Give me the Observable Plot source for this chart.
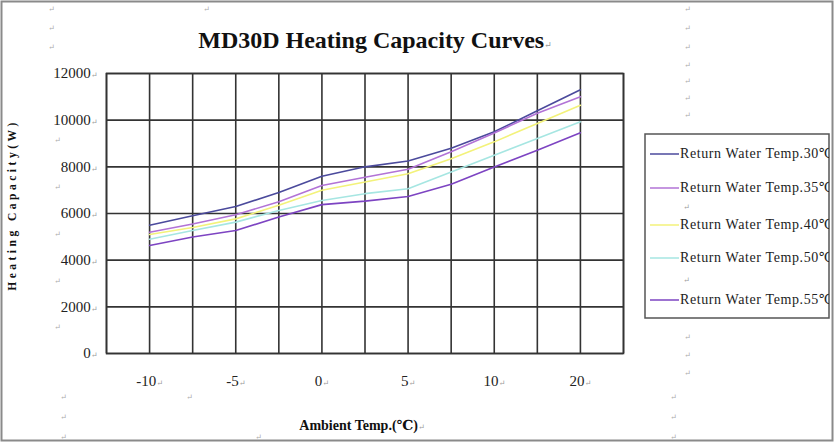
<!DOCTYPE html>
<html>
<head>
<meta charset="utf-8">
<script src="https://cdn.jsdelivr.net/npm/d3@7"></script>
<script src="https://cdn.jsdelivr.net/npm/@observablehq/plot@0.6"></script>
<style>
  html, body { margin: 0; padding: 0; background: #fff; }
  #chart { width: 835px; height: 443px; overflow: hidden; }
</style>
</head>
<body>
<div id="chart"></div>
<script>
// ---- data ----
const xTickLabels = ["-10", "-5", "0", "5", "10", "20"];
const xTickIndex = [1, 3, 5, 7, 9, 11];
const xPointIndex = [1, 2, 3, 4, 5, 6, 7, 8, 9, 10, 11];
const seriesNames = [
  "Return Water Temp.30℃",
  "Return Water Temp.35℃",
  "Return Water Temp.40℃",
  "Return Water Temp.50℃",
  "Return Water Temp.55℃"
];
const seriesColors = ["#4b4a9c", "#b273d6", "#f3f27a", "#a6e6e2", "#7d44c2"];
const temp30 = [5500, 5900, 6300, 6900, 7600, 8000, 8250, 8800, 9500, 10400, 11300];
const temp35 = [5200, 5550, 5950, 6500, 7200, 7550, 7900, 8650, 9450, 10300, 11000];
const temp40 = [5100, 5400, 5770, 6350, 7000, 7350, 7700, 8350, 9070, 9860, 10640];
const temp50 = [4900, 5270, 5630, 6130, 6560, 6850, 7060, 7780, 8500, 9210, 9930];
const temp55 = [4630, 4990, 5270, 5850, 6380, 6530, 6730, 7250, 7990, 8710, 9460];
const yTicks = [0, 2000, 4000, 6000, 8000, 10000, 12000];

const seriesValues = [temp30, temp35, temp40, temp50, temp55];
const rows = [];
seriesNames.forEach((name, s) => {
  seriesValues[s].forEach((v, i) => rows.push({series: name, x: xPointIndex[i], y: v}));
});

const serif = "'Liberation Serif', 'DejaVu Serif', serif";

const plot = Plot.plot({
  width: 835,
  height: 443,
  marginLeft: 106,
  marginRight: 212,
  marginTop: 73,
  marginBottom: 90,
  style: {fontFamily: serif, fontSize: "15px", color: "#222", background: "transparent"},
  x: {domain: [0, 12], ticks: xTickIndex, tickFormat: (d) => xTickLabels[xTickIndex.indexOf(d)], tickSize: 0, tickPadding: 22, label: null},
  y: {domain: [0, 12000], ticks: yTicks, tickFormat: (d) => String(d), tickSize: 0, tickPadding: 9, label: null},
  color: {domain: seriesNames, range: seriesColors},
  marks: [
    Plot.gridX(d3.range(0, 13), {stroke: "#333", strokeOpacity: 1, strokeWidth: 1.6}),
    Plot.gridY(yTicks, {stroke: "#333", strokeOpacity: 1, strokeWidth: 1.6}),
    Plot.frame({stroke: "#333", strokeWidth: 1.6}),
    Plot.line(rows, {x: "x", y: "y", z: "series", stroke: "series", strokeWidth: 1.6})
  ]
});

document.getElementById("chart").appendChild(plot);
const svg = d3.select(plot);
svg.style("overflow", "hidden");

// paragraph marks after tick labels
svg.selectAll("g[aria-label='y-axis tick label'] text, g[aria-label='x-axis tick label'] text").each(function() {
  d3.select(this).append("tspan").attr("font-size", 8).attr("fill", "#999").text("↵");
});

// page border
svg.append("rect").attr("x", 1.5).attr("y", 1.5).attr("width", 831).attr("height", 439)
  .attr("fill", "none").attr("stroke", "#8a8a8a").attr("stroke-width", 2);

// title
svg.append("text").attr("x", 375).attr("y", 48).attr("text-anchor", "middle")
  .attr("font-family", serif).attr("font-weight", "bold").attr("font-size", 24).attr("fill", "#111")
  .text("MD30D Heating Capacity Curves")
  .append("tspan").attr("font-size", 9).attr("font-weight", "normal").attr("fill", "#999").text("↵");

// y axis label
svg.append("text").attr("transform", "translate(16,205) rotate(-90)").attr("text-anchor", "middle")
  .attr("font-family", serif).attr("font-weight", "bold").attr("font-size", 11.5).attr("letter-spacing", 3.5)
  .attr("fill", "#111").text("Heating Capacity(W)");

// x axis label
svg.append("text").attr("x", 362).attr("y", 430).attr("text-anchor", "middle")
  .attr("font-family", serif).attr("font-weight", "bold").attr("font-size", 14).attr("fill", "#111")
  .text("Ambient Temp.(℃)")
  .append("tspan").attr("font-size", 8).attr("font-weight", "normal").attr("fill", "#999").text("↵");

// legend
const lg = svg.append("g");
svg.append("clipPath").attr("id", "lgclip").append("rect").attr("x", 644).attr("y", 133).attr("width", 185).attr("height", 186);
lg.append("rect").attr("x", 645).attr("y", 134).attr("width", 184).attr("height", 184)
  .attr("fill", "#fff").attr("stroke", "#555").attr("stroke-width", 1.5);
const legendY = [154, 188, 225, 258, 300];
const items = lg.append("g").attr("clip-path", "url(#lgclip)").attr("text-anchor", "start");
seriesNames.forEach((name, i) => {
  items.append("line").attr("x1", 650).attr("x2", 679).attr("y1", legendY[i]).attr("y2", legendY[i])
    .attr("stroke", seriesColors[i]).attr("stroke-width", 1.5);
  items.append("text").attr("x", 680).attr("y", legendY[i] + 4).attr("font-family", serif)
    .attr("text-anchor", "start").attr("font-size", 14).attr("letter-spacing", 0.6).attr("fill", "#222").text(name);
});
[[683, 210], [683, 283]].forEach(([x, y]) => items.append("text").attr("x", x).attr("y", y)
  .attr("text-anchor", "start").attr("font-size", 8).attr("fill", "#999").text("↵"));

// word paragraph marks (decoration)
const marks = [[48,12],[203,12],[684,12],[48,31],[684,31],[48,50],[684,50],[684,68],[684,84],[684,101],[684,118],
  [684,340],[684,358],[684,376],[54,143],[54,190],[54,237],[54,284],[54,330],
  [60,400],[186,400],[670,400],[60,420],[670,420],[60,440],[255,440],[670,440]];
marks.forEach(([x, y]) => svg.append("text").attr("x", x).attr("y", y).attr("text-anchor", "start")
  .attr("font-size", 8).attr("fill", "#aaa").text("↵"));
</script>
</body>
</html>
